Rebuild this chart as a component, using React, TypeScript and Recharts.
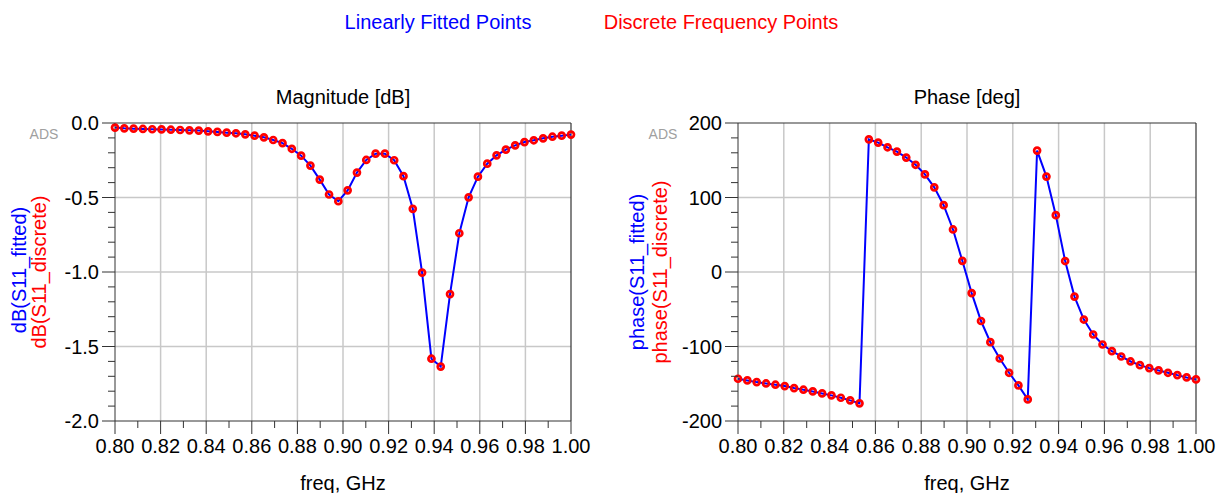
import React from "react";
import {
  LineChart,
  Line,
  XAxis,
  YAxis,
  CartesianGrid,
  ReferenceLine,
} from "recharts";

const FONT = '"Liberation Sans", Arial, sans-serif';
const BLUE = "#0000ff";
const RED = "#ff0000";
const AXIS = "#333333";

// 50 sweep points, 0.8 - 1.0 GHz
const freq = [
  0.8, 0.80408, 0.80816, 0.81224, 0.81633, 0.82041, 0.82449, 0.82857, 0.83265,
  0.83673, 0.84082, 0.8449, 0.84898, 0.85306, 0.85714, 0.86122, 0.86531,
  0.86939, 0.87347, 0.87755, 0.88163, 0.88571, 0.8898, 0.89388, 0.89796,
  0.90204, 0.90612, 0.9102, 0.91429, 0.91837, 0.92245, 0.92653, 0.93061,
  0.93469, 0.93878, 0.94286, 0.94694, 0.95102, 0.9551, 0.95918, 0.96327,
  0.96735, 0.97143, 0.97551, 0.97959, 0.98367, 0.98776, 0.99184, 0.99592, 1.0,
];

const magDb = [
  -0.031, -0.036, -0.038, -0.04, -0.042, -0.043, -0.045, -0.047, -0.049, -0.051,
  -0.056, -0.06, -0.065, -0.069, -0.076, -0.085, -0.096, -0.114, -0.135, -0.173,
  -0.219, -0.286, -0.38, -0.48, -0.525, -0.452, -0.333, -0.248, -0.206, -0.206,
  -0.25, -0.357, -0.576, -1.004, -1.582, -1.635, -1.148, -0.74, -0.499, -0.36,
  -0.273, -0.217, -0.179, -0.15, -0.128, -0.116, -0.103, -0.092, -0.085, -0.078,
];

const phaseDeg = [
  -143.3, -145.5, -147.8, -149.6, -151.3, -153.1, -155.8, -158.0, -160.3,
  -163.0, -165.6, -168.8, -172.3, -176.3, 178.1, 173.7, 167.4, 161.6, 153.6,
  143.9, 131.0, 113.6, 89.7, 57.1, 15.0, -28.3, -65.8, -94.2, -116.1, -135.3,
  -152.2, -171.0, 163.0, 128.1, 76.3, 14.7, -33.0, -63.8, -83.9, -97.3, -106.3,
  -113.4, -120.1, -125.0, -129.0, -132.1, -135.3, -138.4, -141.5, -144.2,
];

const freqTicks = [
  0.8, 0.81, 0.82, 0.83, 0.84, 0.85, 0.86, 0.87, 0.88, 0.89, 0.9, 0.91, 0.92,
  0.93, 0.94, 0.95, 0.96, 0.97, 0.98, 0.99, 1.0,
];
const freqGrid = [0.82, 0.84, 0.86, 0.88, 0.9, 0.92, 0.94, 0.96, 0.98];

const magTicks = [
  -2.0, -1.9, -1.8, -1.7, -1.6, -1.5, -1.4, -1.3, -1.2, -1.1, -1.0, -0.9, -0.8,
  -0.7, -0.6, -0.5, -0.4, -0.3, -0.2, -0.1, 0,
];
const magGrid = [-1.5, -1.0, -0.5];

const phaseTicks = [
  -200, -180, -160, -140, -120, -100, -80, -60, -40, -20, 0, 20, 40, 60, 80,
  100, 120, 140, 160, 180, 200,
];
const phaseGrid = [-100, 0, 100];

const magData = freq.map((f, i) => ({
  freq: f,
  fitted: magDb[i],
  discrete: magDb[i],
}));
const phaseData = freq.map((f, i) => ({
  freq: f,
  fitted: phaseDeg[i],
  discrete: phaseDeg[i],
}));

const isMajor = (v: number, step: number) =>
  Math.abs(v / step - Math.round(v / step)) < 1e-6;

const YTick = (props: any) => {
  const { x, y, payload, step, digits } = props;
  const major = isMajor(payload.value, step);
  const len = major ? 13 : 7;
  const txt =
    Math.abs(payload.value) < 1e-9
      ? (0).toFixed(digits)
      : payload.value.toFixed(digits);
  return (
    <g>
      <line x1={x} x2={x - len} y1={y} y2={y} stroke={AXIS} strokeWidth={1} />
      {major && (
        <text
          x={x - 16}
          y={y}
          dy="0.36em"
          textAnchor="end"
          fontSize={20}
          fontFamily={FONT}
          fill="#000"
        >
          {txt}
        </text>
      )}
    </g>
  );
};

const XTick = (props: any) => {
  const { x, y, payload } = props;
  const major = isMajor(payload.value, 0.02);
  const len = major ? 13 : 7;
  return (
    <g>
      <line x1={x} x2={x} y1={y} y2={y + len} stroke={AXIS} strokeWidth={1} />
      {major && (
        <text
          x={x}
          y={y + 32}
          textAnchor="middle"
          fontSize={20}
          fontFamily={FONT}
          fill="#000"
        >
          {payload.value.toFixed(2)}
        </text>
      )}
    </g>
  );
};

const Panel = ({ data, yTicks, yGrid, yDomain, yStep, yDigits, margin }: any) => (
  <LineChart width={600} height={493} data={data} margin={margin}>
    <CartesianGrid
      horizontalValues={yGrid}
      verticalValues={freqGrid}
      stroke="#c8c8c8"
      strokeWidth={1.5}
    />
    <XAxis
      dataKey="freq"
      type="number"
      domain={[0.8, 1.0]}
      ticks={freqTicks}
      interval={0}
      tickSize={0}
      tickMargin={0}
      tickLine={false}
      axisLine={{ stroke: AXIS }}
      tick={(p: any) => <XTick {...p} />}
    />
    <YAxis
      type="number"
      domain={yDomain}
      ticks={yTicks}
      interval={0}
      tickSize={0}
      tickMargin={0}
      tickLine={false}
      axisLine={{ stroke: AXIS }}
      tick={(p: any) => <YTick {...p} step={yStep} digits={yDigits} />}
    />
    <ReferenceLine y={yDomain[1]} stroke={AXIS} strokeWidth={1.2} />
    <ReferenceLine x={1.0} stroke={AXIS} strokeWidth={1.2} />
    <Line
      dataKey="discrete"
      stroke="none"
      dot={{ r: 3, stroke: RED, strokeWidth: 2.7, fill: "none" }}
      activeDot={false}
      isAnimationActive={false}
    />
    <Line
      dataKey="fitted"
      type="linear"
      stroke={BLUE}
      strokeWidth={2}
      dot={false}
      activeDot={false}
      isAnimationActive={false}
    />
  </LineChart>
);

const abs = (left: number, top: number, extra: any = {}) => ({
  position: "absolute" as const,
  left,
  top,
  transform: "translate(-50%, -50%)",
  whiteSpace: "nowrap" as const,
  fontFamily: FONT,
  fontSize: 20,
  lineHeight: "20px",
  color: "#000",
  ...extra,
});

const vert = (left: number, top: number, color: string) =>
  abs(left, top, {
    transform: "translate(-50%, -50%) rotate(-90deg)",
    color,
  });

const adsStyle = (left: number) =>
  abs(left, 134, {
    fontSize: 14,
    color: "#a0a0a0",
    lineHeight: "14px",
  });

export default function App() {
  return (
    <div
      style={{
        position: "absolute",
        left: 0,
        top: 0,
        width: 1220,
        height: 493,
        background: "#fff",
        overflow: "hidden",
      }}
    >
      <div style={{ position: "absolute", left: 0, top: 0 }}>
        <Panel
          data={magData}
          yTicks={magTicks}
          yGrid={magGrid}
          yDomain={[-2, 0]}
          yStep={0.5}
          yDigits={1}
          margin={{ top: 123, left: 55, right: 29, bottom: 42 }}
        />
      </div>
      <div style={{ position: "absolute", left: 620, top: 0 }}>
        <Panel
          data={phaseData}
          yTicks={phaseTicks}
          yGrid={phaseGrid}
          yDomain={[-200, 200]}
          yStep={100}
          yDigits={0}
          margin={{ top: 123, left: 58, right: 24, bottom: 42 }}
        />
      </div>

      <div style={abs(438, 22, { color: BLUE })}>Linearly Fitted Points</div>
      <div style={abs(721, 22, { color: RED })}>Discrete Frequency Points</div>

      <div style={abs(343, 97)}>Magnitude [dB]</div>
      <div style={abs(967, 97)}>Phase [deg]</div>

      <div style={abs(343, 483)}>freq, GHz</div>
      <div style={abs(967, 483)}>freq, GHz</div>

      <div style={vert(19, 270, BLUE)}>dB(S11_fitted)</div>
      <div style={vert(39, 272, RED)}>dB(S11_discrete)</div>
      <div style={vert(637, 272, BLUE)}>phase(S11_fitted)</div>
      <div style={vert(660, 272, RED)}>phase(S11_discrete)</div>

      <div style={adsStyle(44)}>ADS</div>
      <div style={adsStyle(663)}>ADS</div>
    </div>
  );
}
